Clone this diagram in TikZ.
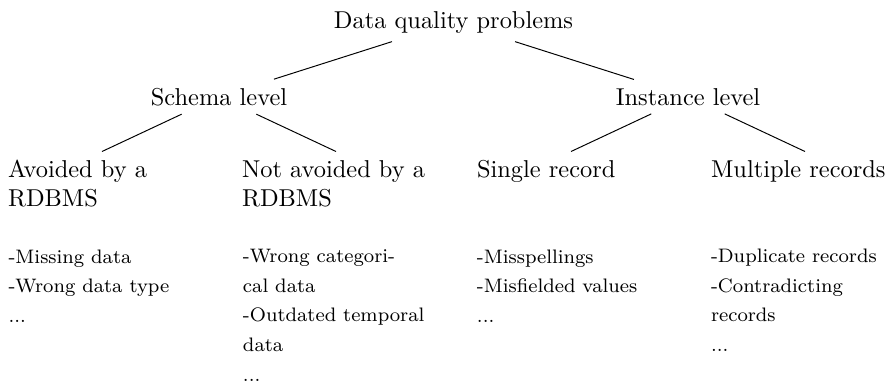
\documentclass[tikz,border=0pt]{standalone}
\begin{document}
\begin{tikzpicture}[x=0.4098pt,y=-0.4098pt,
  level/.style={anchor=base},
  branch/.style={anchor=north,text width=77pt,align=left},
  items/.style={anchor=base west,inner sep=0pt,align=left,font=\fontsize{8}{12.1}\selectfont},
  link/.style={draw,line width=0.4pt}]
\useasboundingbox (0,0) rectangle (891,385);
\node[level] (root) at (453.5,28) {Data quality problems};
\node[level] (schema) at (219,105) {Schema level};
\node[level] (instance) at (688,105) {Instance level};
\node[branch] (avoided) at (102,151.5) {Avoided by a\\RDBMS};
\node[branch] (notavoided) at (336,151.5) {Not avoided by a\\RDBMS};
\node[branch] (single) at (571,151.5) {Single record};
\node[branch] (multiple) at (805,151.5) {Multiple records};
% base anchor of a multi-line node = baseline of its last line
\node[items] (i1) at (8.1,322.5) {-Missing data\\-Wrong data type\\...};
\node[items] (i2) at (242.5,381) {-Wrong categori-\\cal data\\-Outdated temporal\\data\\...};
\node[items] (i3) at (476.5,322.5) {-Misspellings\\-Misfielded values\\...};
\node[items] (i4) at (710.5,351.5) {-Duplicate records\\-Contradicting\\records\\...};
\path[link] (root) -- (schema);
\path[link] (root) -- (instance);
\path[link] (schema) -- (avoided.north);
\path[link] (schema) -- (notavoided.north);
\path[link] (instance) -- (single.north);
\path[link] (instance) -- (multiple.north);
\end{tikzpicture}
\end{document}
